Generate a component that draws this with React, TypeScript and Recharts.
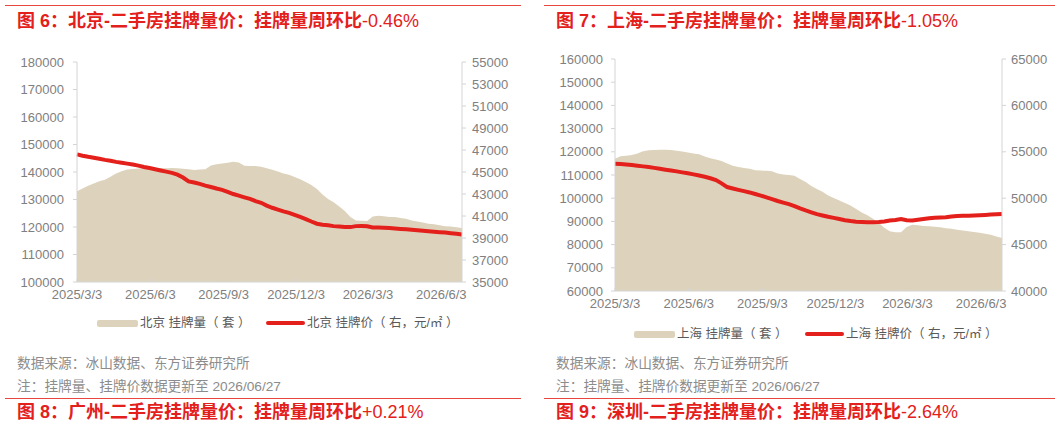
import { ComposedChart, Area, Line, XAxis, YAxis } from 'recharts';

// weekly points from 2025/3/3, last point 2026/6/29-ish edge of the axis
const DAYS = [...Array.from({ length: 69 }, (_, i) => i * 7), 483];
const TICK_DAYS = [0, 92, 184, 275, 365, 457];
const TICK_LABELS = ['2025/3/3', '2025/6/3', '2025/9/3', '2025/12/3', '2026/3/3', '2026/6/3'];

const BJ_LISTINGS = [
  133000, 134000, 135000, 135800, 136600, 137200, 138300, 139500, 140300, 140900,
  141100, 141300, 141400, 141300, 141500, 141500, 141400, 141500, 141400, 141200,
  141000, 140700, 140900, 141000, 142400, 142800, 143100, 143400, 143700, 143500,
  142300, 142200, 142200, 141900, 141400, 140800, 140200, 139500, 139000, 138200,
  137400, 136400, 135300, 133800, 131800, 130200, 129000, 127500, 125800, 123600,
  122400, 122300, 122200, 123800, 124100, 123900, 123600, 123600, 123300, 123000,
  122400, 122000, 121600, 121200, 121000, 120600, 120300, 120200, 119900, 119600,
];
const BJ_PRICE = [
  46600, 46480, 46380, 46300, 46200, 46100, 46020, 45920, 45840, 45760,
  45680, 45580, 45460, 45360, 45250, 45140, 45030, 44920, 44760, 44500,
  44150, 44050, 43920, 43760, 43640, 43500, 43380, 43200, 43000, 42850,
  42700, 42560, 42360, 42200, 41950, 41750, 41580, 41420, 41280, 41100,
  40920, 40720, 40500, 40300, 40200, 40150, 40080, 40040, 40010, 39990,
  40080, 40100, 40060, 39950, 39950, 39940, 39900, 39860, 39820, 39790,
  39740, 39700, 39660, 39620, 39570, 39530, 39490, 39440, 39380, 39320,
];
const SH_LISTINGS = [
  117000, 118100, 118300, 118600, 119300, 120200, 120700, 120800, 120900, 120900,
  120800, 120500, 120100, 119700, 119300, 118900, 118000, 117200, 116700, 116000,
  115000, 114000, 113500, 113000, 112700, 112000, 111900, 111800, 111600, 110600,
  110200, 110000, 109700, 108300, 107000, 105300, 104000, 102800, 101200, 100100,
  99000, 97900, 96900, 95300, 93800, 92600, 91100, 89400, 87300, 85800,
  85300, 85300, 87600, 88600, 88300, 88000, 87900, 87700, 87500, 87100,
  86800, 86400, 86100, 85800, 85400, 85100, 84700, 84200, 83500, 82800,
];
const SH_PRICE = [
  53720, 53680, 53630, 53570, 53500, 53430, 53360, 53270, 53170, 53070,
  52980, 52890, 52780, 52680, 52570, 52440, 52310, 52150, 51950, 51600,
  51200, 51050, 50900, 50760, 50620, 50450, 50280, 50090, 49900, 49700,
  49530, 49360, 49150, 48900, 48680, 48480, 48290, 48140, 48000, 47880,
  47750, 47630, 47540, 47470, 47430, 47400, 47420, 47440, 47480, 47600,
  47650, 47750, 47620, 47600, 47680, 47760, 47830, 47900, 47920, 47950,
  48030, 48080, 48100, 48110, 48140, 48170, 48200, 48240, 48270, 48300,
];

const BJ_LEFT_TICKS = [100000, 110000, 120000, 130000, 140000, 150000, 160000, 170000, 180000];
const BJ_RIGHT_TICKS = [35000, 37000, 39000, 41000, 43000, 45000, 47000, 49000, 51000, 53000, 55000];
const SH_LEFT_TICKS = [60000, 70000, 80000, 90000, 100000, 110000, 120000, 130000, 140000, 150000, 160000];
const SH_RIGHT_TICKS = [40000, 45000, 50000, 55000, 60000, 65000];

const FONT = '"Liberation Sans", Arial, "Noto Sans CJK SC", sans-serif';
const RED = '#e3201b';
const TAN = '#ddd3bc';
const AXIS = '#d4d4d4';
const TICK = '#808080';

const bjData = DAYS.map((day, i) => ({ day, listings: BJ_LISTINGS[i], price: BJ_PRICE[i] }));
const shData = DAYS.map((day, i) => ({ day, listings: SH_LISTINGS[i], price: SH_PRICE[i] }));

const XTick = (props: any) => {
  const { x, y, payload } = props;
  const axisY = y - 8;
  return (
    <g>
      <line x1={x} x2={x} y1={axisY - 3} y2={axisY} stroke={AXIS} />
      <text x={x} y={y} dy="0.71em" textAnchor="middle" fill={TICK} fontSize={13} fontFamily={FONT}>
        {TICK_LABELS[TICK_DAYS.indexOf(payload.value)]}
      </text>
    </g>
  );
};

function Chart(props: any) {
  const { data, width, height, margin, leftW, rightW, leftTicks, rightTicks, leftM, rightM } = props;
  const tickStyle = { fontSize: 13, fill: TICK, fontFamily: FONT };
  return (
    <ComposedChart width={width} height={height} data={data} margin={margin}>
      <XAxis
        dataKey="day"
        type="number"
        domain={[0, 483]}
        ticks={TICK_DAYS}
        interval={0}
        height={30}
        tickSize={0}
        tickMargin={8}
        tickLine={false}
        stroke={AXIS}
        tick={<XTick />}
      />
      <YAxis
        yAxisId="l"
        domain={[leftTicks[0], leftTicks[leftTicks.length - 1]]}
        ticks={leftTicks}
        interval={0}
        width={leftW}
        tickSize={4}
        tickMargin={leftM}
        stroke={AXIS}
        tick={tickStyle}
      />
      <YAxis
        yAxisId="r"
        orientation="right"
        domain={[rightTicks[0], rightTicks[rightTicks.length - 1]]}
        ticks={rightTicks}
        interval={0}
        width={rightW}
        tickSize={4}
        tickMargin={rightM}
        stroke={AXIS}
        tick={{ ...tickStyle, textAnchor: 'start' }}
      />
      <Area
        yAxisId="l"
        dataKey="listings"
        type="linear"
        fill={TAN}
        fillOpacity={1}
        stroke="none"
        isAnimationActive={false}
      />
      <Line
        yAxisId="r"
        dataKey="price"
        type="linear"
        stroke={RED}
        strokeWidth={4}
        dot={false}
        isAnimationActive={false}
      />
    </ComposedChart>
  );
}

const abs = (s: any) => ({ position: 'absolute' as const, ...s });

function Title({ x, y, num, city, pct }: any) {
  return (
    <div
      style={abs({
        left: x,
        top: y - 11,
        height: 22,
        lineHeight: '22px',
        fontSize: 18,
        fontWeight: 700,
        color: RED,
        fontFamily: FONT,
        whiteSpace: 'nowrap',
      })}
    >
      图 {num}：{city}-二手房挂牌量价：挂牌量周环比<span style={{ fontWeight: 400 }}>{pct}</span>
    </div>
  );
}

function Legend({ x, y, city, redX }: any) {
  const text = { fontSize: 12.5, color: '#595959', fontFamily: FONT, whiteSpace: 'pre' as const, lineHeight: '16px' };
  return (
    <>
      <div style={abs({ left: x, top: y - 3.5, width: 41, height: 7, borderRadius: 2, background: TAN })} />
      <div style={abs({ left: x + 43, top: y - 8, ...text })}>{city} 挂牌量（ 套 ）</div>
      <div style={abs({ left: redX, top: y - 2, width: 39, height: 4, borderRadius: 2, background: RED })} />
      <div style={abs({ left: redX + 41, top: y - 8, ...text })}>{city} 挂牌价（ 右，元/㎡ ）</div>
    </>
  );
}

function Notes({ x }: any) {
  const text = { fontSize: 13.7, color: '#8c8c8c', fontFamily: FONT, whiteSpace: 'nowrap' as const, lineHeight: '18px' };
  return (
    <>
      <div style={abs({ left: x, top: 363.5 - 9, ...text })}>数据来源：冰山数据、东方证券研究所</div>
      <div style={abs({ left: x, top: 386.8 - 9, ...text })}>注：挂牌量、挂牌价数据更新至 2026/06/27</div>
    </>
  );
}

export default function App() {
  const rule = { height: 1, background: '#e8463f' };
  return (
    <div style={abs({ left: 0, top: 0, width: 1060, height: 423, overflow: 'hidden', background: '#fff' })}>
      <div style={abs({ left: 5, top: 5, width: 516, ...rule })} />
      <div style={abs({ left: 544, top: 5, width: 511, ...rule })} />
      <Title x={17} y={21} num={6} city="北京" pct="-0.46%" />
      <Title x={556} y={21} num={7} city="上海" pct="-1.05%" />

      <div style={abs({ left: 0, top: 0 })}>
        <Chart
          data={bjData}
          width={530}
          height={320}
          margin={{ top: 62, right: 0, bottom: 8, left: 0 }}
          leftW={77}
          rightW={68}
          leftTicks={BJ_LEFT_TICKS}
          rightTicks={BJ_RIGHT_TICKS}
          leftM={9}
          rightM={6}
        />
      </div>
      <div style={abs({ left: 530, top: 0 })}>
        <Chart
          data={shData}
          width={530}
          height={330}
          margin={{ top: 59, right: 0, bottom: 9, left: 0 }}
          leftW={85}
          rightW={58}
          leftTicks={SH_LEFT_TICKS}
          rightTicks={SH_RIGHT_TICKS}
          leftM={8}
          rightM={5}
        />
      </div>

      <Legend x={97} y={323} city="北京" redX={266} />
      <Legend x={634} y={334} city="上海" redX={805} />
      <Notes x={17} />
      <Notes x={556} />

      <div style={abs({ left: 5, top: 398, width: 516, ...rule })} />
      <div style={abs({ left: 544, top: 398, width: 511, ...rule })} />
      <Title x={17} y={412} num={8} city="广州" pct="+0.21%" />
      <Title x={556} y={412} num={9} city="深圳" pct="-2.64%" />
    </div>
  );
}
